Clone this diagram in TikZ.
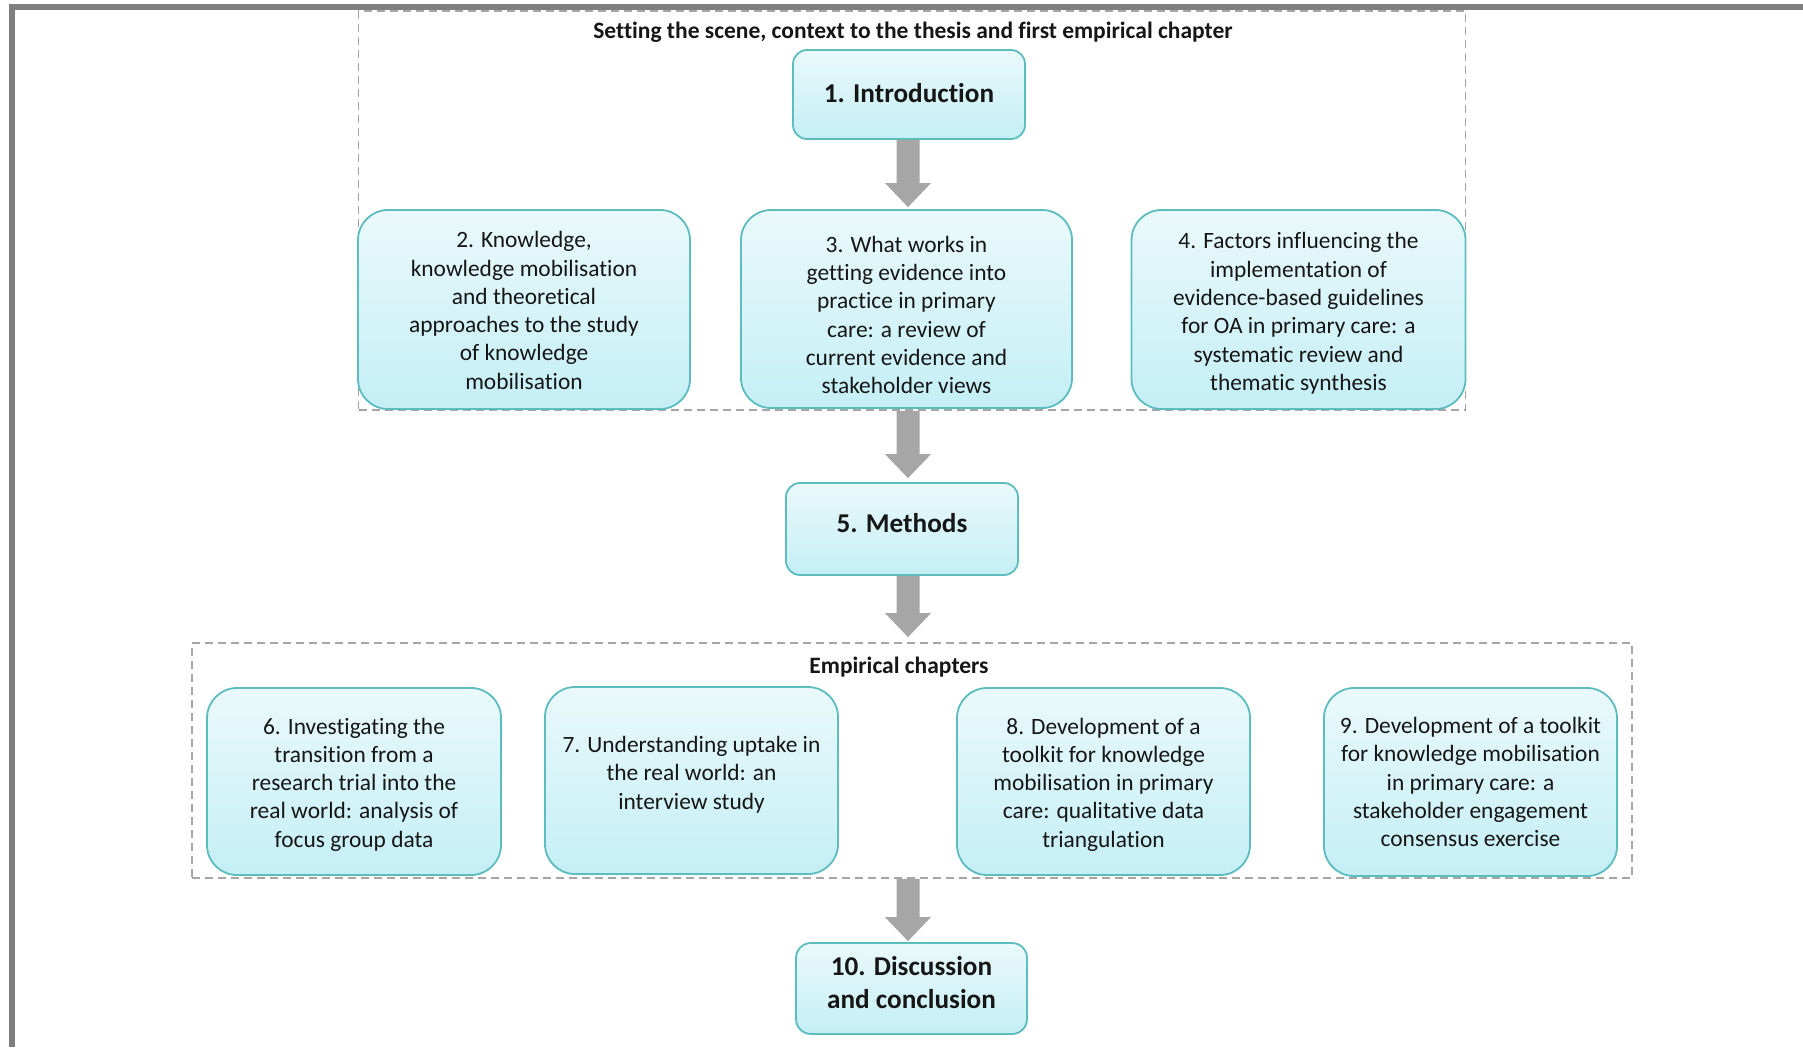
\documentclass[tikz,border=0pt]{standalone}
\usepackage{fontspec}
\setmainfont{Carlito}[Ligatures=NoCommon]
\usetikzlibrary{calc}

\definecolor{boxline}{RGB}{92,188,190}
\definecolor{boxtop}{RGB}{234,249,251}
\definecolor{boxbot}{RGB}{196,239,245}
\definecolor{arrowfill}{RGB}{166,166,166}
\definecolor{framegray}{RGB}{166,166,166}
\definecolor{edgegray}{RGB}{127,127,127}
\definecolor{ink}{RGB}{22,22,22}

\newcommand\bodyfont{\fontsize{23.4}{28.3}\selectfont}
\newcommand\titlefont{\bfseries\fontsize{27.2}{33}\selectfont}
\newcommand\headfont{\bfseries\fontsize{23.5}{28}\selectfont}

% fat grey arrow pointing down from #1 to #2, tip held back by #3 pt
\newcommand\blockarrow[3]{%
  \fill[arrowfill] let \p1=(#1), \p2=(#2) in
    (\x1-11.5pt,\y1) -- (\x1+11.5pt,\y1) -- (\x1+11.5pt,\y2+#3pt+24pt)
    -- (\x1+23pt,\y2+#3pt+24pt) -- (\x1,\y2+#3pt)
    -- (\x1-23pt,\y2+#3pt+24pt) -- (\x1-11.5pt,\y2+#3pt+24pt) -- cycle;}

\begin{document}
\begin{tikzpicture}[x=1pt,y=-1pt,
  chapter/.style={draw=boxline, line width=1.8pt, rounded corners=30pt,
    top color=boxtop, bottom color=boxbot, inner sep=0pt},
  keybox/.style={chapter, rounded corners=14pt},
  groupframe/.style={draw=framegray, line width=1.8pt, dash pattern=on 8pt off 5pt,
    inner sep=0pt},
  heading/.style={font=\headfont, text=ink, anchor=base, inner sep=0pt},
  bodytext/.style={font=\bodyfont, text=ink, align=center, inner sep=0pt},
  titletext/.style={font=\titlefont, text=ink, align=center, inner sep=0pt}]

\useasboundingbox (0,0) rectangle (1803,1047);
\fill[white] (0,0) rectangle (1803,1047);

% dashed grouping frames
\node[groupframe, minimum width=1107, minimum height=399] (scene) at (912,210.5) {};
\node[groupframe, minimum width=1440, minimum height=235] (emp) at (912,760.5) {};

% outer page edge
\draw[edgegray, line width=6pt] (12,1047) -- (12,7) -- (1803,7);

% group headings
\node[heading] (sceneh) at (913,38) {Setting the scene, context to the thesis and first empirical chapter};
\node[heading] (emph) at (899,673) {Empirical chapters};

% chapter boxes
\node[keybox, minimum width=232, minimum height=89] (intro) at (909,94.5) {};
\node[chapter, minimum width=332, minimum height=199] (b2) at (524,309.5) {};
\node[chapter, minimum width=331, minimum height=198] (b3) at (906.5,309) {};
\node[chapter, minimum width=334, minimum height=199] (b4) at (1298.5,309.5) {};
\node[keybox, minimum width=232, minimum height=92] (methods) at (902,529) {};
\node[chapter, minimum width=294, minimum height=187] (b6) at (354,781.5) {};
\node[chapter, minimum width=293, minimum height=187] (b7) at (691.5,780.5) {};
\node[chapter, minimum width=293, minimum height=187] (b8) at (1103.5,781.5) {};
\node[chapter, minimum width=293, minimum height=188] (b9) at (1470.5,782) {};
\node[keybox, rounded corners=15pt, minimum width=231, minimum height=91] (concl) at (911.5,988.5) {};

% chapter titles
\node[titletext] (introt) at ($(intro.center)+(0,-1)$) {1. Introduction};
\node[bodytext] (t2) at ($(b2.center)+(0,1)$)
  {2. Knowledge,\\knowledge mobilisation\\and theoretical\\approaches to the study\\of knowledge\\mobilisation};
\node[bodytext] (t3) at ($(b3.center)+(0,6)$)
  {3. What works in\\getting evidence into\\practice in primary\\care: a review of\\current evidence and\\stakeholder views};
\node[bodytext] (t4) at ($(b4.center)+(0,4)$)
  {4. Factors influencing the\\implementation of\\evidence-based guidelines\\for OA in primary care: a\\systematic review and\\thematic synthesis};
\node[titletext] (methodst) at ($(methods.center)+(0,-5.5)$) {5. Methods};
\node[bodytext] (t6) at ($(b6.center)+(0,3)$)
  {6. Investigating the\\transition from a\\research trial into the\\real world: analysis of\\focus group data};
\node[bodytext] (t7) at ($(b7.center)+(0,-6)$)
  {7. Understanding uptake in\\the real world: an\\interview study};
\node[bodytext] (t8) at ($(b8.center)+(0,3)$)
  {8. Development of a\\toolkit for knowledge\\mobilisation in primary\\care: qualitative data\\triangulation};
\node[bodytext] (t9) at ($(b9.center)+(0,0)$)
  {9. Development of a toolkit\\for knowledge mobilisation\\in primary care: a\\stakeholder engagement\\consensus exercise};
\node[titletext] (conclt) at ($(concl.center)+(0,-5.5)$) {10. Discussion\\and conclusion};

% flow arrows along one vertical axis
\coordinate (ax) at (908,0);
\blockarrow{intro.south -| ax}{b3.north -| ax}{2}
\blockarrow{scene.south -| ax}{methods.north -| ax}{4}
\blockarrow{methods.south -| ax}{emp.north -| ax}{5}
\blockarrow{emp.south -| ax}{concl.north -| ax}{1}

\end{tikzpicture}
\end{document}
